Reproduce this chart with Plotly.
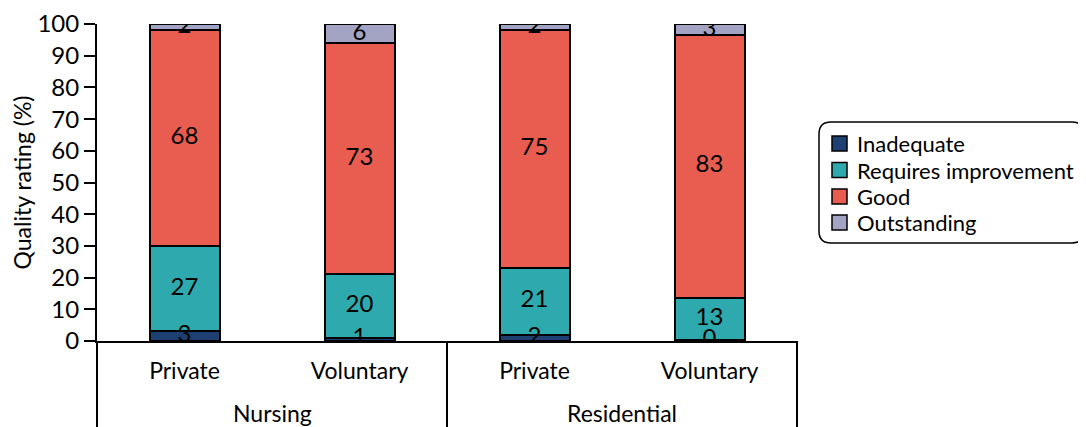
import plotly.graph_objects as go
import numpy as np

groups = ["Nursing", "Nursing", "Residential", "Residential"]
sectors = ["Private", "Voluntary", "Private", "Voluntary"]

series_names = ["Inadequate", "Requires improvement", "Good", "Outstanding"]
inadequate = [3, 1, 2, 0.4]
requires_improvement = [27, 20, 21, 13.2]
good = [68, 73, 75, 82.9]
outstanding = [2, 6, 2, 3.5]

inadequate_labels = ["3", "1", "2", "0"]
requires_labels = ["27", "20", "21", "13"]
good_labels = ["68", "73", "75", "83"]
outstanding_labels = ["2", "6", "2", "3"]

colors = ["#1d3f72", "#2eaaae", "#e95d50", "#a3a4c4"]

values = [inadequate, requires_improvement, good, outstanding]
labels = [inadequate_labels, requires_labels, good_labels, outstanding_labels]

FONT = "Lato"
FS = 23
LW = 2
idx = list(range(len(sectors)))

fig = go.Figure()
for name, vals, col in zip(series_names, values, colors):
    fig.add_trace(go.Bar(
        x=idx, y=vals, name=name, width=0.4, showlegend=False,
        marker=dict(color=col, line=dict(color="black", width=LW)),
    ))

base = np.zeros(len(idx))
for vals, labs in zip(values, labels):
    v = np.array(vals, dtype=float)
    mid = base + v / 2
    fig.add_trace(go.Scatter(
        x=idx, y=mid, mode="text", text=labs, showlegend=False,
        textfont=dict(family=FONT, size=24, color="black"), hoverinfo="skip",
    ))
    base = base + v

# page has an 8px body margin: work in page pixels, convert to figure
OFF = 8
W, H = 1086 - OFF, 427 - OFF
ml, mt, pw, ph = 97 - OFF, 24 - OFF, 700, 317
mr, mb = W - ml - pw, H - mt - ph

def px2paper(xp, yp):
    xf, yf = xp - OFF, yp - OFF
    return (xf - ml) / pw, (H - mb - yf) / ph

shapes = []
# group dividers below the axis
ybot = px2paper(0, 440)[1]
group_names = []
for g in groups:
    if g not in group_names:
        group_names.append(g)
n = len(sectors)
edges = [0]
for g in group_names:
    edges.append(edges[-1] + groups.count(g))
for e in edges:
    xp = e / n
    shapes.append(dict(type="line", xref="paper", yref="paper", x0=xp, x1=xp,
                       y0=0, y1=ybot, line=dict(color="black", width=LW)))

annotations = []
ygrp = px2paper(0, 413)[1]
for g, a, b in zip(group_names, edges[:-1], edges[1:]):
    annotations.append(dict(text=g, xref="paper", yref="paper", x=(a + b) / 2 / n, y=ygrp,
                            showarrow=False, xanchor="center", yanchor="middle",
                            font=dict(family=FONT, size=FS, color="black")))

# rounded legend box
x0, y0, x1, y1, r = 819, 122, 1084, 243, 12
def P(xp, yp):
    a, b = px2paper(xp, yp)
    return f"{a:.5f},{b:.5f}"
path = (f"M {P(x0+r,y0)} L {P(x1-r,y0)} Q {P(x1,y0)} {P(x1,y0+r)} "
        f"L {P(x1,y1-r)} Q {P(x1,y1)} {P(x1-r,y1)} L {P(x0+r,y1)} "
        f"Q {P(x0,y1)} {P(x0,y1-r)} L {P(x0,y0+r)} Q {P(x0,y0)} {P(x0+r,y0)} Z")
shapes.append(dict(type="path", path=path, xref="paper", yref="paper",
                   line=dict(color="black", width=1.5), fillcolor="rgba(0,0,0,0)"))

row_y = [143.5, 170, 196.5, 222.5]
for name, col, yc in zip(series_names, colors, row_y):
    ax0, ay0 = px2paper(832, yc - 7.5)
    ax1, ay1 = px2paper(847, yc + 7.5)
    shapes.append(dict(type="rect", xref="paper", yref="paper", x0=ax0, x1=ax1,
                       y0=ay1, y1=ay0, fillcolor=col, line=dict(color="black", width=1.5)))
    tx, ty = px2paper(855, yc)
    annotations.append(dict(text=name, xref="paper", yref="paper", x=tx, y=ty,
                            showarrow=False, xanchor="left", yanchor="middle",
                            font=dict(family=FONT, size=22, color="black")))

fig.update_layout(
    width=W, height=H,
    margin=dict(l=ml, r=mr, t=mt, b=mb, autoexpand=False),
    plot_bgcolor="white", paper_bgcolor="white",
    barmode="stack",
    font=dict(family=FONT, size=FS, color="black"),
    showlegend=False,
    shapes=shapes, annotations=annotations,
    xaxis=dict(range=[-0.5, n - 0.5], tickvals=idx, ticktext=sectors,
               showline=True, linecolor="black", linewidth=LW,
               ticks="", ticklabelstandoff=8, showgrid=False, zeroline=False,
               tickfont=dict(family=FONT, size=FS, color="black")),
    yaxis=dict(range=[0, 100], dtick=10, showline=True, linecolor="black", linewidth=LW,
               ticks="outside", ticklen=11, tickcolor="black", tickwidth=LW,
               showgrid=False, zeroline=False,
               title=dict(text="Quality rating (%)", font=dict(family=FONT, size=FS), standoff=3),
               tickfont=dict(family=FONT, size=FS + 1, color="black")),
)
fig.write_html("out.html")
